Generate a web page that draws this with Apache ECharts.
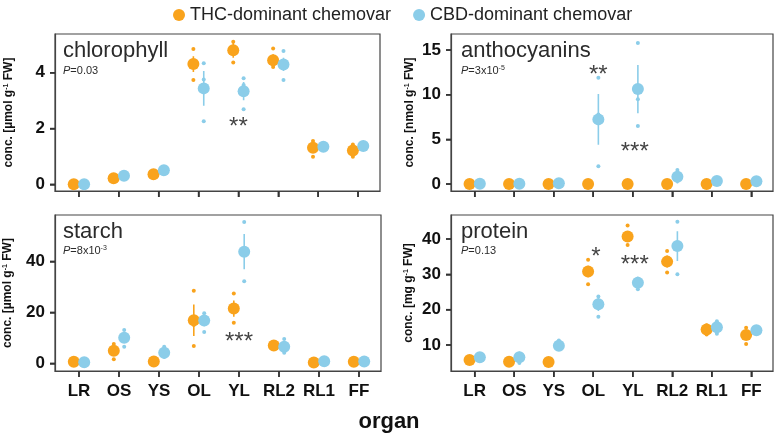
<!DOCTYPE html>
<html>
<head>
<meta charset="utf-8">
<script src="https://cdn.jsdelivr.net/npm/echarts@6/dist/echarts.min.js"></script>
<style>
  html, body { margin: 0; padding: 0; background: #fff; }
  #chart { width: 778px; height: 436px; }
</style>
</head>
<body>
<div id="chart"></div>
<script>
// organs on the x axis
const organs = ['LR', 'OS', 'YS', 'OL', 'YL', 'RL2', 'RL1', 'FF'];
const thcName = 'THC-dominant chemovar';
const cbdName = 'CBD-dominant chemovar';

// chlorophyll [µmol g-1 FW]
const chlThcMean = [0.0, 0.22, 0.36, 4.31, 4.81, 4.45, 1.31, 1.21];
const chlThcErr = [0.01, 0.02, 0.03, 0.28, 0.27, 0.21, 0.12, 0.1];
const chlThcPts = [[0.0, 0.02], [0.2, 0.25], [0.33, 0.4], [4.85, 3.74, 4.3], [5.11, 4.37, 4.9], [4.87, 4.21, 4.3], [1.55, 0.99, 1.38], [1.43, 0.99, 1.2]];
const chlCbdMean = [0.0, 0.31, 0.5, 3.44, 3.34, 4.3, 1.35, 1.37];
const chlCbdErr = [0.01, 0.02, 0.03, 0.62, 0.33, 0.24, 0.05, 0.05];
const chlCbdPts = [[0.0, 0.02], [0.29, 0.33], [0.48, 0.53], [4.34, 3.76, 2.26], [3.8, 3.56, 2.69], [4.78, 4.4, 3.74], [1.33, 1.38], [1.35, 1.4]];
const chlStars = [[4.0, 2.26, '**']];

// anthocyanins [nmol g-1 FW]
const antThcMean = [0.0, 0.0, 0.0, 0.0, 0.0, 0.0, 0.0, 0.0];
const antThcErr = [0, 0, 0, 0, 0, 0, 0, 0];
const antThcPts = [[0, 0], [0, 0], [0, 0], [0, 0], [0, 0], [0, 0], [0, 0], [0, 0]];
const antCbdMean = [0.02, 0.02, 0.08, 7.24, 10.64, 0.82, 0.34, 0.3];
const antCbdErr = [0.02, 0.02, 0.05, 2.85, 2.7, 0.75, 0.1, 0.1];
const antCbdPts = [[0, 0.03], [0, 0.03], [0.05, 0.1], [11.9, 7.8, 2.0], [15.8, 9.5, 6.5], [1.57, 0.55, 0.35], [0.3, 0.4], [0.25, 0.35]];
const antStars = [[3.13, 12.85, '**'], [4.05, 4.25, '***']];

// starch [µmol g-1 FW]
const staThcMean = [0.63, 4.94, 0.7, 16.9, 21.5, 7.0, 0.3, 0.65];
const staThcErr = [0.1, 2.0, 0.1, 6.2, 3.2, 0.7, 0.1, 0.1];
const staThcPts = [[0.5, 0.8], [7.6, 1.57, 5.5], [0.6, 0.8], [28.5, 6.8, 15.0], [27.4, 15.9, 21.0], [7.5, 6.3], [0.2, 0.4], [0.5, 0.8]];
const staCbdMean = [0.4, 10.0, 4.2, 16.8, 43.8, 6.5, 0.8, 0.7];
const staCbdErr = [0.1, 2.0, 1.3, 2.2, 6.9, 1.7, 0.2, 0.1];
const staCbdPts = [[0.3, 0.5], [13.1, 6.5, 10.4], [6.5, 2.5, 3.6], [19.7, 12.3, 17.5], [55.5, 32.2, 44.0], [9.6, 4.2, 5.8], [0.6, 1.0], [0.6, 0.8]];
const staStars = [[4.0, 10.4, '***']];

// protein [mg g-1 FW]
const proThcMean = [5.75, 5.27, 5.18, 30.8, 40.7, 33.6, 14.4, 12.8];
const proThcErr = [0.2, 0.2, 0.2, 1.6, 1.3, 1.7, 1.0, 1.3];
const proThcPts = [[5.6, 5.9], [5.1, 5.4], [5.0, 5.3], [34.1, 27.2, 31.0], [43.8, 38.3, 40.0], [36.6, 30.5, 33.8], [15.6, 13.0, 14.5], [14.9, 10.3, 13.2]];
const proCbdMean = [6.5, 6.5, 9.8, 21.5, 27.6, 38.0, 15.0, 14.2];
const proCbdErr = [0.2, 1.0, 0.9, 1.9, 1.4, 4.2, 1.2, 0.3];
const proCbdPts = [[6.4, 6.7], [7.6, 4.9, 6.9], [11.3, 9.0, 9.4], [23.7, 18.0, 22.6], [28.8, 25.8, 28.2], [44.9, 30.0, 39.0], [16.7, 13.2, 15.0], [14.0, 14.4]];
const proStars = [[3.07, 36.4, '*'], [4.05, 34.1, '***']];

// y tick labels
const chlTicks = [0, 2, 4];
const antTicks = [0, 5, 10, 15];
const staTicks = [0, 20, 40];
const proTicks = [10, 20, 30, 40];

const panelNames = ['chlorophyll', 'anthocyanins', 'starch', 'protein'];
const pValues = ['{i|P}=0.03', '{i|P}=3x10{s|-5}', '{i|P}=8x10{s|-3}', '{i|P}=0.13'];
const units = ['µmol', 'nmol', 'µmol', 'mg'];

const ORANGE = '#F9A31C';
const BLUE = '#8BCDE9';
const DODGE = 0.13;
const X_MIN = -0.6;
const X_MAX = 7.55;
const FONT = '"Liberation Sans", Arial, sans-serif';

const panels = [
  { thcMean: chlThcMean, thcErr: chlThcErr, thcPts: chlThcPts, cbdMean: chlCbdMean, cbdErr: chlCbdErr, cbdPts: chlCbdPts, stars: chlStars, ticks: chlTicks },
  { thcMean: antThcMean, thcErr: antThcErr, thcPts: antThcPts, cbdMean: antCbdMean, cbdErr: antCbdErr, cbdPts: antCbdPts, stars: antStars, ticks: antTicks },
  { thcMean: staThcMean, thcErr: staThcErr, thcPts: staThcPts, cbdMean: staCbdMean, cbdErr: staCbdErr, cbdPts: staCbdPts, stars: staStars, ticks: staTicks },
  { thcMean: proThcMean, thcErr: proThcErr, thcPts: proThcPts, cbdMean: proCbdMean, cbdErr: proCbdErr, cbdPts: proCbdPts, stars: proStars, ticks: proTicks }
];

// layout of the four panels
const layout = [
  { left: 55, top: 34, width: 325, height: 157, yMin: -0.24, yMax: 5.39, nameGap: 40, xLabels: false },
  { left: 451, top: 34, width: 322, height: 157, yMin: -0.78, yMax: 16.8, nameGap: 35, xLabels: false },
  { left: 55, top: 215, width: 326, height: 156, yMin: -3.0, yMax: 58.2, nameGap: 41, xLabels: true },
  { left: 451, top: 215, width: 322, height: 156, yMin: 2.63, yMax: 46.8, nameGap: 36, xLabels: true }
];

const chart = echarts.init(document.getElementById('chart'));

// tick mark at an axis value, pushed outwards by (dx, dy) pixels
function renderTick(params, api) {
  const p = api.coord([api.value('x'), api.value('y')]);
  const dx = Number(api.value('dx')) || 0;
  const dy = Number(api.value('dy')) || 0;
  return {
    type: 'line',
    shape: { x1: p[0], y1: p[1], x2: p[0] + dx, y2: p[1] + dy },
    style: { stroke: '#333', lineWidth: 1.5 }
  };
}

const grids = [], xAxes = [], yAxes = [], series = [], graphics = [];
const organIdx = () => organs.map((o, k) => k);

layout.forEach((g, i) => {
  const p = panels[i];
  grids.push({ left: g.left, top: g.top, width: g.width, height: g.height, show: true, borderColor: '#444', borderWidth: 1.2 });

  xAxes.push({
    gridIndex: i, type: 'value', min: X_MIN, max: X_MAX,
    axisLine: { show: true, onZero: false, lineStyle: { color: '#444', width: 1.2 } },
    axisTick: { show: true, length: 6, customValues: organIdx(), lineStyle: { color: '#333', width: 1.5 } },
    axisLabel: {
      show: g.xLabels, customValues: organIdx(), margin: 12,
      formatter: v => organs[Math.round(v)], fontSize: 17, fontWeight: 'bold', color: '#111', fontFamily: FONT
    },
    splitLine: { show: false }
  });

  yAxes.push({
    gridIndex: i, type: 'value', min: g.yMin, max: g.yMax,
    name: 'conc. [' + units[i] + ' g{s|-1} FW]', nameLocation: 'middle', nameGap: g.nameGap,
    nameTextStyle: {
      fontSize: 12, fontWeight: 'bold', color: '#111', fontFamily: FONT,
      rich: { s: { fontSize: 7, fontWeight: 'bold', verticalAlign: 'top', color: '#111', fontFamily: FONT } }
    },
    axisLine: { show: true, onZero: false, lineStyle: { color: '#444', width: 1.2 } },
    axisTick: { show: true, length: 5, customValues: p.ticks.slice(), lineStyle: { color: '#333', width: 1.5 } },
    axisLabel: { customValues: p.ticks.slice(), margin: 10, fontSize: 17, fontWeight: 'bold', color: '#111', fontFamily: FONT },
    splitLine: { show: false }
  });

  // tick marks drawn through the axis scales
  series.push({
    type: 'custom', name: 'xticks-' + i, xAxisIndex: i, yAxisIndex: i,
    renderItem: renderTick, clip: false, silent: true,
    dimensions: ['x', 'y', 'dx', 'dy'], encode: { x: 'x', y: 'y' },
    data: organs.map((o, k) => [k, g.yMin, 0, 6]), z: 5
  });
  series.push({
    type: 'custom', name: 'yticks-' + i, xAxisIndex: i, yAxisIndex: i,
    renderItem: renderTick, clip: false, silent: true,
    dimensions: ['x', 'y', 'dx', 'dy'], encode: { x: 'x', y: 'y' },
    data: p.ticks.map(v => [X_MIN, v, -5, 0]), z: 5
  });

  const groups = [
    { name: thcName, color: ORANGE, off: -DODGE, mean: p.thcMean, err: p.thcErr, pts: p.thcPts },
    { name: cbdName, color: BLUE, off: DODGE, mean: p.cbdMean, err: p.cbdErr, pts: p.cbdPts }
  ];
  groups.forEach((gr, j) => {
    // error bars: one vertical segment per organ, broken by empty points
    const bars = [];
    gr.mean.forEach((m, k) => {
      bars.push([k + gr.off, m - gr.err[k]], [k + gr.off, m + gr.err[k]], [k + gr.off, '-']);
    });
    series.push({
      type: 'line', name: 'err-' + i + '-' + j, xAxisIndex: i, yAxisIndex: i,
      symbol: 'none', connectNulls: false, silent: true,
      lineStyle: { color: gr.color, width: 1.6 }, itemStyle: { color: gr.color },
      data: bars, z: 2
    });
    const pts = [];
    gr.pts.forEach((arr, k) => arr.forEach(v => pts.push([k + gr.off, v])));
    series.push({
      type: 'scatter', name: 'pts-' + i + '-' + j, xAxisIndex: i, yAxisIndex: i,
      symbolSize: 4, itemStyle: { color: gr.color, opacity: 1 }, data: pts, z: 2
    });
    series.push({
      type: 'scatter', name: gr.name, xAxisIndex: i, yAxisIndex: i,
      symbolSize: 12, itemStyle: { color: gr.color, opacity: 1 },
      data: gr.mean.map((m, k) => [k + gr.off, m]), z: 3
    });
  });

  series.push({
    type: 'scatter', name: 'stars-' + i, xAxisIndex: i, yAxisIndex: i,
    symbolSize: 0, silent: true,
    data: p.stars.map(s => ({ value: [s[0], s[1]], label: { formatter: s[2] } })),
    label: { show: true, position: 'inside', offset: [0, 6], fontSize: 24, color: '#111', fontFamily: FONT },
    z: 4
  });

  // panel title and P value
  const tx = g.left + (i % 2 === 0 ? 8 : 10);
  graphics.push({
    type: 'text', left: tx, top: g.top + 6,
    style: { text: panelNames[i], fontSize: 22, fill: '#2b2b2b', fontFamily: FONT }
  });
  graphics.push({
    type: 'text', left: tx, top: g.top + (i < 2 ? 31 : 30),
    style: {
      text: pValues[i], fontSize: 11, fill: '#2b2b2b', fontFamily: FONT,
      rich: {
        i: { fontStyle: 'italic', fontSize: 11, fill: '#2b2b2b', fontFamily: FONT },
        s: { fontSize: 7, verticalAlign: 'top', fill: '#2b2b2b', fontFamily: FONT }
      }
    }
  });
});

graphics.push({
  type: 'text', left: 'center', top: 411,
  style: { text: 'organ', fontSize: 22, fontWeight: 'bold', fill: '#111', fontFamily: FONT }
});

const option = {
  animation: false,
  legend: {
    left: 168, top: 1, itemWidth: 12, itemHeight: 12, itemGap: 22,
    textStyle: { fontSize: 18, color: '#222', fontFamily: FONT },
    data: [
      { name: thcName, icon: 'circle', itemStyle: { color: ORANGE } },
      { name: cbdName, icon: 'circle', itemStyle: { color: BLUE } }
    ]
  },
  grid: grids,
  xAxis: xAxes,
  yAxis: yAxes,
  graphic: graphics,
  series: series
};

chart.setOption(option);
</script>
</body>
</html>
